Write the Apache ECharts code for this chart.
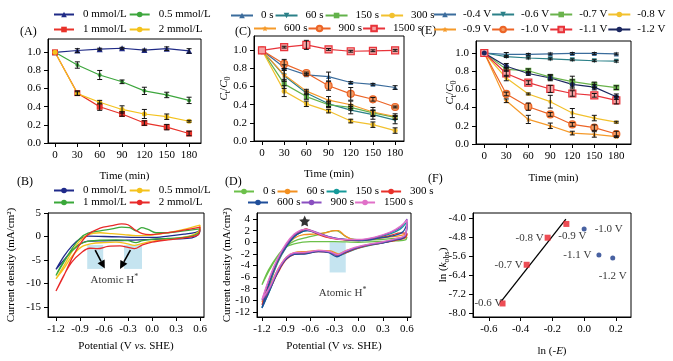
<!DOCTYPE html>
<html>
<head>
<meta charset="utf-8">
<script src="https://cdn.jsdelivr.net/npm/echarts@6/dist/echarts.min.js"></script>
<style>
  html, body { margin: 0; padding: 0; background: #fff; }
  #chart { width: 673px; height: 361px; }
</style>
</head>
<body>
<div id="chart"></div>
<script>
// ---------------- data ----------------
var times = [0, 30, 60, 90, 120, 150, 180];
var fracTicks = [0, 0.2, 0.4, 0.6, 0.8, 1.0];

// (A) removal vs concentration
var aNames = ["0 mmol/L", "0.5 mmol/L", "1 mmol/L", "2 mmol/L"];
var aConc0 = [1.0, 1.02, 1.035, 1.045, 1.025, 1.04, 1.015];
var aConc05 = [1.0, 0.86, 0.75, 0.675, 0.575, 0.53, 0.47];
var aConc1 = [1.0, 0.55, 0.40, 0.32, 0.22, 0.175, 0.105];
var aConc2 = [1.0, 0.545, 0.45, 0.37, 0.32, 0.29, 0.24];
var aErr0 = [0, 0.02, 0.01, 0.01, 0.01, 0.02, 0.025];
var aErr05 = [0, 0.035, 0.05, 0.02, 0.04, 0.03, 0.035];
var aErr1 = [0, 0.025, 0.04, 0.025, 0.025, 0.03, 0.025];
var aErr2 = [0, 0.02, 0.02, 0.04, 0.05, 0.03, 0.01];

// (C) removal vs pre-treatment time
var cNames = ["0 s", "60 s", "150 s", "300 s", "600 s", "900 s", "1500 s"];
var cT0 = [1.0, 0.81, 0.73, 0.71, 0.645, 0.625, 0.59];
var cT60 = [1.0, 0.72, 0.53, 0.41, 0.34, 0.29, 0.23];
var cT150 = [1.0, 0.63, 0.49, 0.40, 0.37, 0.31, 0.26];
var cT300 = [1.0, 0.55, 0.41, 0.33, 0.22, 0.18, 0.115];
var cT600 = [1.0, 0.73, 0.55, 0.45, 0.40, 0.32, 0.27];
var cT900 = [1.0, 0.85, 0.75, 0.61, 0.52, 0.46, 0.375];
var cT1500 = [1.0, 1.035, 1.06, 1.01, 0.99, 0.995, 1.0];
var cErr0 = [0, 0.03, 0.01, 0.05, 0.01, 0.01, 0.02];
var cErr60 = [0, 0.06, 0.02, 0.03, 0.04, 0.05, 0.04];
var cErr150 = [0, 0.05, 0.03, 0.03, 0.03, 0.03, 0.02];
var cErr300 = [0, 0.06, 0.03, 0.02, 0.02, 0.03, 0.03];
var cErr600 = [0, 0.07, 0.02, 0.04, 0.04, 0.05, 0.03];
var cErr900 = [0, 0.05, 0.01, 0.05, 0.07, 0.02, 0.01];
var cErr1500 = [0, 0.01, 0.05, 0.01, 0.01, 0.01, 0.01];

// (E) removal vs potential
var eNames = ["-0.4 V", "-0.6 V", "-0.7 V", "-0.8 V", "-0.9 V", "-1.0 V", "-1.1 V", "-1.2 V"];
var eV04 = [1.0, 0.985, 0.985, 0.99, 0.995, 0.995, 0.99];
var eV06 = [1.0, 0.96, 0.945, 0.935, 0.925, 0.915, 0.91];
var eV07 = [1.0, 0.82, 0.805, 0.735, 0.685, 0.65, 0.62];
var eV08 = [1.0, 0.725, 0.55, 0.465, 0.34, 0.285, 0.24];
var eV09 = [1.0, 0.475, 0.27, 0.20, 0.12, 0.105, 0.08];
var eV10 = [1.0, 0.55, 0.41, 0.325, 0.215, 0.18, 0.11];
var eV11 = [1.0, 0.775, 0.675, 0.605, 0.555, 0.535, 0.48];
var eV12 = [1.0, 0.855, 0.775, 0.725, 0.655, 0.625, 0.52];
var eErr04 = [0, 0.02, 0.01, 0.01, 0.01, 0.01, 0.01];
var eErr06 = [0, 0.01, 0.01, 0.01, 0.01, 0.01, 0.01];
var eErr07 = [0, 0.02, 0.02, 0.03, 0.06, 0.03, 0.02];
var eErr08 = [0, 0.03, 0.01, 0.07, 0.05, 0.03, 0.01];
var eErr09 = [0, 0.02, 0.045, 0.03, 0.02, 0.03, 0.01];
var eErr10 = [0, 0.02, 0.04, 0.02, 0.02, 0.03, 0.03];
var eErr11 = [0, 0.03, 0.02, 0.04, 0.03, 0.02, 0.04];
var eErr12 = [0, 0.03, 0.02, 0.03, 0.05, 0.03, 0.03];

// (B) CV loops vs concentration  [potential V, current mA/cm2]
var cvB0 = [[-1.2,-7.0],[-1.1,-4.2],[-1.0,-2.0],[-0.9,-0.5],[-0.8,0.1],[-0.6,0.0],[-0.4,-0.1],[-0.2,-0.2],[0.0,-0.2],[0.2,0.1],[0.4,0.5],[0.55,0.9],[0.6,1.3],[0.58,0.4],[0.5,-0.3],[0.3,-0.5],[0.0,-0.6],[-0.3,-0.8],[-0.6,-0.9],[-0.8,-1.0],[-0.9,-1.6],[-1.0,-3.0],[-1.1,-5.0],[-1.2,-7.0]];
var cvB05 = [[-1.2,-9.0],[-1.1,-6.2],[-1.0,-3.2],[-0.9,-0.9],[-0.8,0.4],[-0.65,0.8],[-0.5,0.6],[-0.35,0.4],[-0.2,0.2],[0.0,0.3],[0.2,0.8],[0.4,1.5],[0.6,2.4],[0.58,1.0],[0.45,0.0],[0.2,-0.6],[0.0,-1.0],[-0.15,-1.6],[-0.22,-1.9],[-0.32,-1.5],[-0.45,-1.2],[-0.6,-1.3],[-0.75,-1.5],[-0.88,-2.2],[-1.0,-4.2],[-1.1,-6.8],[-1.2,-9.0]];
var cvB1 = [[-1.2,-8.3],[-1.1,-5.4],[-1.0,-2.6],[-0.9,-0.4],[-0.8,0.7],[-0.65,1.2],[-0.5,1.6],[-0.38,2.0],[-0.28,1.9],[-0.2,1.2],[-0.13,1.9],[-0.05,1.5],[0.05,0.8],[0.2,0.8],[0.4,1.2],[0.6,1.6],[0.58,0.7],[0.45,-0.1],[0.2,-0.4],[0.0,-0.6],[-0.12,-0.9],[-0.2,-1.3],[-0.3,-0.9],[-0.45,-0.7],[-0.65,-0.8],[-0.82,-1.1],[-0.93,-2.0],[-1.05,-4.0],[-1.15,-6.6],[-1.2,-8.3]];
var cvB2 = [[-1.2,-11.6],[-1.1,-8.3],[-1.0,-4.6],[-0.9,-1.6],[-0.8,0.4],[-0.65,1.8],[-0.5,2.3],[-0.38,2.7],[-0.3,2.5],[-0.22,1.5],[-0.12,0.6],[-0.02,0.4],[0.15,0.7],[0.35,1.2],[0.6,2.0],[0.58,0.4],[0.4,-0.3],[0.2,-0.7],[0.0,-1.2],[-0.12,-1.8],[-0.22,-2.6],[-0.3,-2.3],[-0.4,-2.0],[-0.55,-2.1],[-0.68,-2.6],[-0.78,-2.5],[-0.88,-3.4],[-1.0,-5.4],[-1.1,-8.2],[-1.2,-11.6]];

// (D) CV loops vs pre-treatment time
var cvD0 = [[-1.2,-7.3],[-1.1,-4.6],[-1.0,-2.3],[-0.9,-0.7],[-0.8,0.2],[-0.65,0.8],[-0.5,1.3],[-0.38,1.8],[-0.28,2.0],[-0.22,1.6],[-0.15,0.9],[-0.05,0.5],[0.1,0.4],[0.3,0.5],[0.5,0.7],[0.6,0.9],[0.58,0.4],[0.4,0.2],[0.2,0.1],[0.0,0.0],[-0.3,0.1],[-0.6,0.1],[-0.8,-0.3],[-0.92,-1.0],[-1.02,-2.6],[-1.12,-4.8],[-1.2,-7.3]];
var cvD60 = [[-1.2,-10.3],[-1.1,-6.8],[-1.0,-3.2],[-0.9,-0.8],[-0.8,0.7],[-0.68,1.3],[-0.55,1.4],[-0.42,1.6],[-0.3,2.0],[-0.25,2.0],[-0.18,1.2],[-0.08,0.5],[0.05,0.4],[0.25,0.7],[0.45,1.0],[0.6,1.4],[0.58,0.8],[0.4,0.3],[0.2,-0.3],[0.0,-0.9],[-0.15,-1.4],[-0.25,-2.0],[-0.35,-1.5],[-0.5,-1.4],[-0.65,-1.6],[-0.8,-1.8],[-0.9,-2.6],[-1.0,-4.6],[-1.1,-7.4],[-1.2,-10.3]];
var cvD150 = [[-1.2,-11.3],[-1.1,-7.0],[-1.0,-3.4],[-0.9,-0.9],[-0.8,0.9],[-0.7,1.8],[-0.63,2.0],[-0.55,1.8],[-0.45,1.2],[-0.32,0.7],[-0.15,0.4],[0.0,0.3],[0.2,0.7],[0.4,1.5],[0.52,2.3],[0.6,3.5],[0.58,1.2],[0.5,0.6],[0.35,0.0],[0.15,-0.5],[0.0,-1.0],[-0.15,-1.8],[-0.25,-2.3],[-0.35,-1.8],[-0.5,-1.5],[-0.65,-1.9],[-0.8,-2.0],[-0.9,-2.8],[-1.0,-5.0],[-1.1,-8.2],[-1.2,-11.3]];
var cvD300 = [[-1.2,-10.8],[-1.1,-6.6],[-1.0,-3.1],[-0.9,-0.7],[-0.8,1.1],[-0.7,2.0],[-0.65,2.3],[-0.58,1.9],[-0.48,1.2],[-0.35,0.7],[-0.18,0.4],[0.0,0.3],[0.2,0.6],[0.4,1.2],[0.52,1.6],[0.6,1.5],[0.58,0.8],[0.45,0.3],[0.3,-0.1],[0.1,-0.6],[-0.05,-1.2],[-0.18,-1.9],[-0.26,-2.3],[-0.36,-1.7],[-0.5,-1.6],[-0.65,-1.9],[-0.8,-2.1],[-0.9,-3.0],[-1.0,-5.2],[-1.1,-8.0],[-1.2,-10.8]];
var cvD600 = [[-1.2,-11.3],[-1.1,-6.6],[-1.0,-3.0],[-0.9,-0.8],[-0.8,1.0],[-0.7,1.8],[-0.64,2.0],[-0.55,1.7],[-0.45,1.3],[-0.35,0.9],[-0.25,0.6],[-0.1,0.4],[0.05,0.3],[0.25,0.7],[0.45,1.2],[0.55,1.8],[0.6,3.2],[0.57,0.9],[0.45,0.4],[0.3,-0.1],[0.1,-0.5],[-0.05,-1.1],[-0.18,-1.8],[-0.27,-2.5],[-0.37,-1.8],[-0.5,-1.6],[-0.65,-2.0],[-0.8,-2.1],[-0.92,-3.2],[-1.02,-5.6],[-1.12,-8.8],[-1.2,-11.3]];
var cvD900 = [[-1.2,-10.0],[-1.1,-6.0],[-1.0,-2.8],[-0.9,-0.4],[-0.8,1.3],[-0.72,2.0],[-0.66,2.2],[-0.58,2.0],[-0.48,1.5],[-0.35,0.9],[-0.2,0.5],[0.0,0.4],[0.2,0.8],[0.4,1.7],[0.52,2.6],[0.6,4.0],[0.58,1.2],[0.45,0.5],[0.3,0.0],[0.1,-0.5],[-0.05,-1.0],[-0.18,-1.7],[-0.26,-2.2],[-0.36,-1.7],[-0.5,-1.5],[-0.65,-1.8],[-0.8,-1.9],[-0.9,-2.7],[-1.0,-4.8],[-1.1,-7.8],[-1.2,-10.0]];
var cvD1500 = [[-1.2,-9.8],[-1.1,-5.8],[-1.0,-2.6],[-0.9,-0.2],[-0.8,1.4],[-0.72,2.1],[-0.67,2.2],[-0.58,1.9],[-0.48,1.4],[-0.35,0.8],[-0.2,0.5],[0.0,0.5],[0.2,0.9],[0.4,1.8],[0.52,2.8],[0.6,3.8],[0.58,1.3],[0.45,0.6],[0.3,0.1],[0.1,-0.4],[-0.05,-0.9],[-0.18,-1.6],[-0.26,-2.1],[-0.36,-1.6],[-0.5,-1.4],[-0.65,-1.7],[-0.8,-1.8],[-0.9,-2.6],[-1.0,-4.6],[-1.1,-7.6],[-1.2,-9.8]];

// annotations of (B) and (D), in data units
var bShade = [[-0.81, -1.8, -0.61, -6.9], [-0.35, -1.8, -0.125, -6.9]];
var bArrows = [[-0.71, -2.9, -0.59, -6.8], [-0.27, -2.9, -0.40, -6.9]];
var bTextAt = [-0.47, -9.3];
var dShade = [[-0.36, 0.0, -0.16, -5.2]];
var dTextAt = [-0.2, -8.8];
var dStarAt = [-0.67, 3.65];

// (F) ln k_obs vs ln(-E)
var fLnE = [-0.514, -0.362, -0.23, -0.112, 0.0, 0.093, 0.18];
var fLnK = [-7.6, -5.97, -4.83, -4.25, -4.46, -5.56, -5.68];
var fLabels = ["-0.6 V", "-0.7 V", "-0.8 V", "-0.9 V", "-1.0 V", "-1.1 V", "-1.2 V"];
var fFitX = [-0.52, -0.115];
var fFitY = [-7.49, -4.05];

// ---------------- chart ----------------
var FONT = "'Liberation Serif', 'Times New Roman', serif";
var STAR = "path://M0,-1L0.29,-0.4L0.95,-0.31L0.47,0.15L0.59,0.81L0,0.5L-0.59,0.81L-0.47,0.15L-0.95,-0.31L-0.29,-0.4Z";
var RICH = {
  n: { fontFamily: FONT, fontSize: 11, color: "#000", lineHeight: 15 },
  i: { fontFamily: FONT, fontSize: 11, color: "#000", fontStyle: "italic", lineHeight: 15 },
  s: { fontFamily: FONT, fontSize: 8, color: "#000", lineHeight: 8, verticalAlign: "bottom" },
  p: { fontFamily: FONT, fontSize: 8, color: "#000", lineHeight: 8, verticalAlign: "top" }
};

var chart = echarts.init(document.getElementById("chart"));

// grid order: 0 A, 1 C, 2 E, 3 B, 4 D, 5 F
var grids = [
  { left: 48, top: 39, width: 153, height: 104 },
  { left: 254, top: 36, width: 150, height: 105 },
  { left: 476, top: 41, width: 155, height: 103 },
  { left: 48, top: 213, width: 156, height: 104 },
  { left: 257, top: 213, width: 154, height: 104 },
  { left: 473, top: 213, width: 158, height: 104 }
];
grids.forEach(function (g) {
  g.show = true;
  g.borderColor = "#000";
  g.borderWidth = 1;
  g.backgroundColor = "transparent";
});

function axis(idx, min, max, ticks, fmt, name, gap) {
  return {
    gridIndex: idx,
    type: "value",
    min: min,
    max: max,
    name: name || "",
    nameLocation: "middle",
    nameGap: gap || 20,
    nameMoveOverlap: false,
    nameTextStyle: { fontFamily: FONT, fontSize: 11, color: "#000", rich: RICH },
    axisLine: { onZero: false, lineStyle: { color: "#000", width: 1 } },
    axisTick: { customValues: ticks, length: 4, lineStyle: { color: "#000" } },
    axisLabel: { customValues: ticks, formatter: fmt, fontFamily: FONT, fontSize: 11, color: "#000", margin: 7 },
    splitLine: { show: false }
  };
}
function f1(v) { return v.toFixed(1); }
function f0(v) { return v.toFixed(0); }

var xAxes = [
  axis(0, -9.4, 196, times, f0, "Time (min)", 28),
  axis(1, -10.8, 192, times, f0, "Time (min)", 28),
  axis(2, -11.3, 200, times, f0, "Time (min)", 29),
  axis(3, -1.3, 0.65, [-1.2, -0.9, -0.6, -0.3, 0, 0.3, 0.6], f1, "{n|Potential (V }{i|vs.}{n| SHE)}", 22),
  axis(4, -1.262, 0.65, [-1.2, -0.9, -0.6, -0.3, 0, 0.3, 0.6], f1, "{n|Potential (V }{i|vs.}{n| SHE)}", 22),
  axis(5, -0.70, 0.295, [-0.6, -0.4, -0.2, 0, 0.2], f1, "{n|ln (-}{i|E}{n|)}", 27)
];
var yAxes = [
  axis(0, 0, 1.147, fracTicks, f1, "", 20),
  axis(1, 0, 1.158, fracTicks, f1, "{i|C}{s|t}{n|/}{i|C}{s|0}", 22),
  axis(2, 0, 1.132, fracTicks, f1, "{i|C}{s|t}{n|/}{i|C}{s|0}", 18),
  axis(3, -17.13, 5, [5, 0, -5, -10, -15], f0, "Current density (mA/cm²)", 31),
  axis(4, -12.86, 5.03, [4, 2, 0, -2, -4, -6, -8, -10, -12], f0, "Current density (mA/cm²)", 24),
  axis(5, -8.17, -3.79, [-4.0, -4.8, -5.6, -6.4, -7.2, -8.0], f1, "{n|ln (}{i|k}{s|obs}{n|)}", 22)
];

var series = [];
var errData = [[], [], []];

function addKinetic(g, tag, name, vals, errs, color, sym, size, fill, rot) {
  series.push({
    name: tag + "|" + name,
    type: "line",
    xAxisIndex: g,
    yAxisIndex: g,
    data: times.map(function (t, i) { return [t, vals[i]]; }),
    symbol: sym,
    symbolSize: size,
    symbolRotate: rot || 0,
    lineStyle: { color: color, width: 1.2 },
    itemStyle: { color: fill || color, borderColor: color, borderWidth: fill ? 1.2 : 0 },
    z: 3
  });
  times.forEach(function (t, i) {
    if (errs[i] > 0) errData[g].push([t, vals[i] - errs[i], vals[i] + errs[i]]);
  });
}

addKinetic(0, "A", aNames[0], aConc0, aErr0, "#1f2a86", "triangle", 6);
addKinetic(0, "A", aNames[1], aConc05, aErr05, "#3da63d", "circle", 4);
addKinetic(0, "A", aNames[2], aConc1, aErr1, "#e8322a", "rect", 6);
addKinetic(0, "A", aNames[3], aConc2, aErr2, "#f4c21c", "circle", 5);

addKinetic(1, "C", cNames[0], cT0, cErr0, "#3b6c9c", "triangle", 5);
addKinetic(1, "C", cNames[1], cT60, cErr60, "#2b8088", "triangle", 5, null, 180);
addKinetic(1, "C", cNames[2], cT150, cErr150, "#62b24a", "rect", 5);
addKinetic(1, "C", cNames[3], cT300, cErr300, "#f2c12e", "circle", 5);
addKinetic(1, "C", cNames[4], cT600, cErr600, "#f59a2a", STAR, 6);
addKinetic(1, "C", cNames[5], cT900, cErr900, "#ec6426", "circle", 7, "#f49a62");
addKinetic(1, "C", cNames[6], cT1500, cErr1500, "#e8333a", "rect", 7, "#f5a3a3");

addKinetic(2, "E", eNames[0], eV04, eErr04, "#3b6c9c", "triangle", 5);
addKinetic(2, "E", eNames[1], eV06, eErr06, "#2b8088", "triangle", 5, null, 180);
addKinetic(2, "E", eNames[2], eV07, eErr07, "#6ab34c", "rect", 6);
addKinetic(2, "E", eNames[3], eV08, eErr08, "#f2c12e", "circle", 4);
addKinetic(2, "E", eNames[4], eV09, eErr09, "#f59a2a", STAR, 5);
addKinetic(2, "E", eNames[5], eV10, eErr10, "#ec6426", "circle", 7, "#f49a62");
addKinetic(2, "E", eNames[6], eV11, eErr11, "#e8333a", "rect", 7, "#f5a3a3");
addKinetic(2, "E", eNames[7], eV12, eErr12, "#1b2760", "circle", 5);

function renderErr(params, api) {
  var p1 = api.coord([api.value(0), api.value(1)]);
  var p2 = api.coord([api.value(0), api.value(2)]);
  var c = 2.5;
  var st = { stroke: "#111", lineWidth: 1 };
  return {
    type: "group",
    children: [
      { type: "line", shape: { x1: p1[0], y1: p1[1], x2: p2[0], y2: p2[1] }, style: st },
      { type: "line", shape: { x1: p1[0] - c, y1: p1[1], x2: p1[0] + c, y2: p1[1] }, style: st },
      { type: "line", shape: { x1: p2[0] - c, y1: p2[1], x2: p2[0] + c, y2: p2[1] }, style: st }
    ]
  };
}
[0, 1, 2].forEach(function (g) {
  series.push({
    type: "custom", name: "err" + g, xAxisIndex: g, yAxisIndex: g,
    renderItem: renderErr, data: errData[g], encode: { x: 0, y: [1, 2] }, z: 4, silent: true
  });
});

// shaded rectangles, arrows
function renderRect(params, api) {
  var p1 = api.coord([api.value(0), api.value(1)]);
  var p2 = api.coord([api.value(2), api.value(3)]);
  return {
    type: "rect",
    shape: { x: Math.min(p1[0], p2[0]), y: Math.min(p1[1], p2[1]), width: Math.abs(p2[0] - p1[0]), height: Math.abs(p2[1] - p1[1]) },
    style: { fill: "rgba(166,214,232,0.65)" }
  };
}
function renderArrow(params, api) {
  var p1 = api.coord([api.value(0), api.value(1)]);
  var p2 = api.coord([api.value(2), api.value(3)]);
  var dx = p2[0] - p1[0], dy = p2[1] - p1[1];
  var len = Math.sqrt(dx * dx + dy * dy);
  var ux = dx / len, uy = dy / len;
  var h = 8, w = 4;
  var bx = p2[0] - ux * h, by = p2[1] - uy * h;
  return {
    type: "group",
    children: [
      { type: "line", shape: { x1: p1[0], y1: p1[1], x2: bx, y2: by }, style: { stroke: "#000", lineWidth: 1.6 } },
      { type: "polygon", shape: { points: [[p2[0], p2[1]], [bx - uy * w, by + ux * w], [bx + uy * w, by - ux * w]] }, style: { fill: "#000" } }
    ]
  };
}
series.push({ type: "custom", xAxisIndex: 3, yAxisIndex: 3, renderItem: renderRect, data: bShade, z: 1, silent: true });
series.push({ type: "custom", xAxisIndex: 4, yAxisIndex: 4, renderItem: renderRect, data: dShade, z: 1, silent: true });
series.push({ type: "custom", xAxisIndex: 3, yAxisIndex: 3, renderItem: renderArrow, data: bArrows, z: 5, silent: true });

function addCv(g, tag, name, pts, color) {
  series.push({
    name: tag + "|" + name,
    type: "line",
    xAxisIndex: g,
    yAxisIndex: g,
    data: pts,
    smooth: 0.35,
    symbol: "none",
    showSymbol: false,
    lineStyle: { color: color, width: 1.3 },
    itemStyle: { color: color },
    z: 3
  });
}
addCv(3, "B", aNames[0], cvB0, "#1f2a8a");
addCv(3, "B", aNames[1], cvB05, "#f4c21c");
addCv(3, "B", aNames[2], cvB1, "#3aa83a");
addCv(3, "B", aNames[3], cvB2, "#e82a2a");

addCv(4, "D", cNames[0], cvD0, "#6cc04a");
addCv(4, "D", cNames[1], cvD60, "#f39020");
addCv(4, "D", cNames[2], cvD150, "#169a9a");
addCv(4, "D", cNames[3], cvD300, "#e8302a");
addCv(4, "D", cNames[4], cvD600, "#1f4e9a");
addCv(4, "D", cNames[5], cvD900, "#8a4fc0");
addCv(4, "D", cNames[6], cvD1500, "#e070c8");

function textPoint(g, at, z) {
  return {
    type: "scatter", xAxisIndex: g, yAxisIndex: g, data: [at], symbolSize: 1,
    itemStyle: { color: "transparent" }, silent: true, z: z || 6,
    label: { show: true, position: "inside", formatter: "{n|Atomic H}{p|*}", rich: RICH }
  };
}
series.push(textPoint(3, bTextAt));
series.push(textPoint(4, dTextAt));
series.push({
  type: "scatter", xAxisIndex: 4, yAxisIndex: 4, data: [dStarAt], symbol: STAR, symbolSize: 11,
  itemStyle: { color: "#000" }, silent: true, z: 6
});

// (F)
var fPlace = [
  { position: "left", distance: -3 },
  { position: "left", distance: 1 },
  { position: "left", distance: 1 },
  { position: "bottom", distance: 4, offset: [6, 0] },
  { position: "right", distance: 8 },
  { position: "left", distance: 5 },
  { position: "bottom", distance: 10 }
];
var fRed = [], fBlue = [];
fLnE.forEach(function (x, i) {
  var item = {
    value: [x, fLnK[i]],
    label: Object.assign({ show: true, formatter: fLabels[i], fontFamily: FONT, fontSize: 11, color: "#000" }, fPlace[i])
  };
  if (i < 4) fRed.push(item); else fBlue.push(item);
});
series.push({
  type: "line", xAxisIndex: 5, yAxisIndex: 5, data: fFitX.map(function (x, i) { return [x, fFitY[i]]; }),
  symbol: "none", lineStyle: { color: "#000", width: 1.3 }, z: 2, silent: true
});
series.push({ type: "scatter", xAxisIndex: 5, yAxisIndex: 5, data: fRed, symbol: "rect", symbolSize: 6, itemStyle: { color: "#e8202a" }, z: 3 });
series.push({ type: "scatter", xAxisIndex: 5, yAxisIndex: 5, data: fBlue, symbol: "circle", symbolSize: 5, itemStyle: { color: "#1a3a8a" }, z: 3 });

// legends
function legend(left, top, tag, names, itemWidth, itemGap, pad) {
  return {
    left: left, top: top, width: 330, padding: 0, itemGap: itemGap, itemWidth: itemWidth, itemHeight: 7,
    selectedMode: false,
    data: names.map(function (n) { return tag + "|" + n; }),
    formatter: function (n) { return n.split("|")[1]; },
    textStyle: { fontFamily: FONT, fontSize: 11, color: "#000", padding: [0, 0, 0, pad] }
  };
}
var legends = [
  legend(53, 9, "A", aNames.slice(0, 2), 20, 2, 4),
  legend(53, 24, "A", aNames.slice(2, 4), 20, 2, 4),
  legend(230, 10, "C", cNames.slice(0, 4), 22, 1, 3),
  legend(253, 23, "C", cNames.slice(4, 7), 22, 0, 3),
  legend(433, 9, "E", eNames.slice(0, 4), 22, 0, 2),
  legend(433, 24, "E", eNames.slice(4, 8), 22, 0, 2),
  legend(53, 185, "B", aNames.slice(0, 2), 20, 2, 4),
  legend(53, 197, "B", aNames.slice(2, 4), 20, 2, 4),
  legend(233, 186, "D", cNames.slice(0, 4), 20, 1, 4),
  legend(247, 197, "D", cNames.slice(4, 7), 20, 0, 4)
];

function panelLabel(text, x, y) {
  return { type: "text", left: x, top: y, style: { text: text, font: "12px " + FONT, fill: "#000" } };
}

var option = {
  animation: false,
  backgroundColor: "#fff",
  grid: grids,
  xAxis: xAxes,
  yAxis: yAxes,
  legend: legends,
  graphic: [
    panelLabel("(A)", 20, 26),
    panelLabel("(C)", 235, 26),
    panelLabel("(E)", 421, 25),
    panelLabel("(B)", 17, 176),
    panelLabel("(D)", 225, 176),
    panelLabel("(F)", 428, 173)
  ],
  series: series
};
chart.setOption(option);
window.addEventListener("resize", function () {
  chart.resize();
});
</script>
</body>
</html>
